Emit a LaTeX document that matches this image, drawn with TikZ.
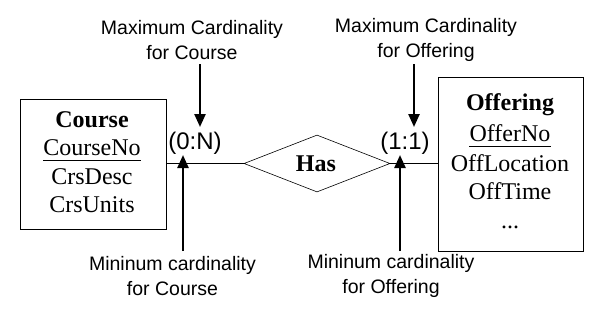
\documentclass[tikz,border=0pt]{standalone}
\usepackage{fontspec}
\setmainfont{Liberation Serif}
\newfontfamily\labelfont{Liberation Sans}
\usetikzlibrary{shapes.geometric,arrows.meta}
\begin{document}
\begin{tikzpicture}[x=1pt,y=-1pt,
  ent/.style={draw,line width=0.9pt,inner sep=0},
  attr/.style={inner sep=0,anchor=base,font=\fontsize{24}{28}\selectfont},
  card/.style={inner sep=0,anchor=base,font=\labelfont\fontsize{24}{28}\selectfont},
  note/.style={inner sep=0,align=center,font=\labelfont\fontsize{19.5}{24.5}\selectfont},
  ptr/.style={line width=2.4pt,-{Triangle[length=13pt,width=11pt]}},
  thin/.style={line width=0.9pt}]
\useasboundingbox (0,0) rectangle (597,319);
% entity boxes
\node[ent,minimum width=146,minimum height=130] (course) at (93,164) {};
\node[ent,minimum width=145,minimum height=174] (offering) at (510.5,164) {};
% relationship
\node[draw,diamond,line width=0.6pt,inner sep=0,minimum width=146,minimum height=57] (has) at (317,163.5) {};
\node[attr,font=\bfseries\fontsize{24}{28}\selectfont] (hast) at (316,171) {Has};
% course attributes
\node[attr,font=\bfseries\fontsize{24}{28}\selectfont] (c1) at (92,127) {Course};
\node[attr] (c2) at (92,155) {CourseNo};
\node[attr] (c3) at (92,184) {CrsDesc};
\node[attr] (c4) at (92,212) {CrsUnits};
\draw[thin] ([yshift=-5]c2.base west) -- ([yshift=-5]c2.base east);
% offering attributes
\node[attr,font=\bfseries\fontsize{24}{28}\selectfont] (o1) at (510,110) {Offering};
\node[attr] (o2) at (510,141) {OfferNo};
\node[attr] (o3) at (510,171) {OffLocation};
\node[attr] (o4) at (510,199) {OffTime};
\node[attr] (o5) at (510,228) {...};
\draw[thin] ([yshift=-5]o2.base west) -- ([yshift=-5]o2.base east);
% connectors
\draw[thin] (course.east |- has.west) -- (has.west);
\draw[thin] (has.east) -- (offering.west |- has.east);
% cardinalities
\node[card] (cc) at (195,149) {(0:N)};
\node[card] (oc) at (405,149) {(1:1)};
% notes
\node[note] (maxc) at (192,40) {Maximum Cardinality\\for Course};
\node[note] (maxo) at (426,40) {Maximum Cardinality\\for Offering};
\node[note] (minc) at (172.5,276) {Mininum cardinality\\for Course};
\node[note] (mino) at (391,276) {Mininum cardinality\\for Offering};
% pointer coordinates
\coordinate (t1s) at (200,64); \coordinate (t1e) at (200,127);
\coordinate (t2s) at (414,64); \coordinate (t2e) at (414,127);
\coordinate (b1s) at (183,251); \coordinate (b1e) at (183,155);
\coordinate (b2s) at (400,251); \coordinate (b2e) at (400,155);
\draw[ptr] (t1s) -- (t1e);
\draw[ptr] (t2s) -- (t2e);
\draw[ptr] (b1s) -- (b1e);
\draw[ptr] (b2s) -- (b2e);
\end{tikzpicture}
\end{document}
